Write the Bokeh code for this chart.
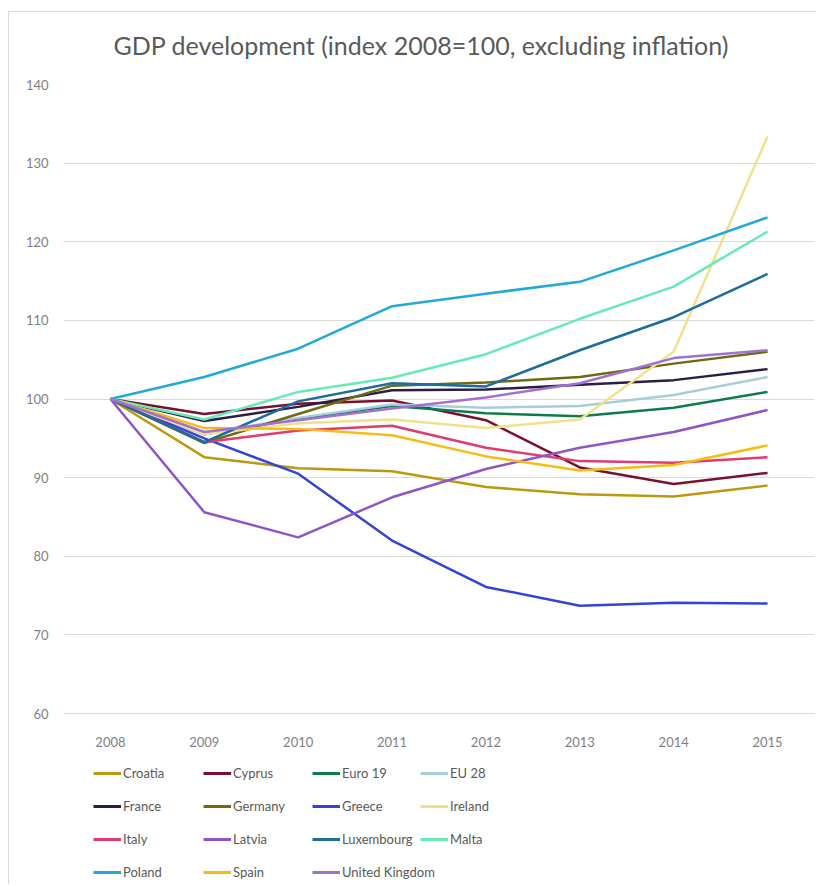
from bokeh.plotting import figure
from bokeh.layouts import column
from bokeh.models import Range1d, FixedTicker, Legend, LegendItem
from bokeh.embed import file_html
from bokeh.resources import INLINE

years = [2008, 2009, 2010, 2011, 2012, 2013, 2014, 2015]
year_labels = ["2008", "2009", "2010", "2011", "2012", "2013", "2014", "2015"]
y_ticks = [60, 70, 80, 90, 100, 110, 120, 130, 140]

croatia = [100, 92.6, 91.2, 90.8, 88.8, 87.9, 87.6, 89.0]
cyprus = [100, 98.1, 99.4, 99.8, 97.3, 91.3, 89.2, 90.6]
euro19 = [100, 95.5, 97.5, 99.1, 98.2, 97.8, 98.9, 100.9]
eu28 = [100, 95.6, 97.6, 99.3, 98.9, 99.1, 100.5, 102.8]
france = [100, 97.2, 99.0, 101.1, 101.2, 101.8, 102.4, 103.8]
germany = [100, 94.4, 98.1, 101.7, 102.1, 102.8, 104.5, 106.0]
greece = [100, 95.0, 90.5, 82.0, 76.1, 73.7, 74.1, 74.0]
ireland = [100, 95.5, 96.9, 97.4, 96.3, 97.4, 106.0, 133.4]
italy = [100, 94.5, 96.0, 96.6, 93.8, 92.1, 91.9, 92.6]
latvia = [100, 85.6, 82.4, 87.5, 91.1, 93.8, 95.8, 98.6]
luxembourg = [100, 94.5, 99.7, 102.0, 101.6, 106.2, 110.4, 115.9]
malta = [100, 97.4, 100.9, 102.7, 105.7, 110.2, 114.3, 121.3]
poland = [100, 102.8, 106.4, 111.8, 113.4, 114.9, 118.9, 123.1]
spain = [100, 96.3, 96.2, 95.4, 92.7, 90.9, 91.6, 94.1]
uk = [100, 95.8, 97.3, 98.8, 100.2, 102.0, 105.2, 106.2]

series_names = ["Croatia", "Cyprus", "Euro 19", "EU 28", "France", "Germany", "Greece",
                "Ireland", "Italy", "Latvia", "Luxembourg", "Malta", "Poland", "Spain",
                "United Kingdom"]
series_values = [croatia, cyprus, euro19, eu28, france, germany, greece, ireland, italy,
                 latvia, luxembourg, malta, poland, spain, uk]
series_colors = ["#BC9A10", "#7A0F2E", "#0E7C4A", "#A9CCDB", "#2B1E45", "#6E6A12", "#3344D6",
                 "#F3E08E", "#E23B6E", "#8E55C9", "#1C6C9C", "#66EBB4", "#22A9DB", "#F7BB12",
                 "#A070D4"]

FONT = "Lato"
GRAY = "#7F7F7F"
BORDER = "#D9D9D9"

p = figure(width=816, height=755, output_backend="svg", toolbar_location=None,
           x_range=Range1d(2007.5, 2015.5), y_range=Range1d(60, 140),
           min_border_left=63, min_border_right=2, min_border_top=84, min_border_bottom=42,
           title="GDP development (index 2008=100, excluding inflation)")
p.border_fill_alpha = 0
p.styles = {"background": f"linear-gradient({BORDER},{BORDER}) 8px 11px / 1px 100% no-repeat, "
                          f"linear-gradient({BORDER},{BORDER}) 8px 11px / 100% 1px no-repeat, white"}
p.title.align = "left"
p.title.offset = 50
p.title.text_font = FONT
p.title.text_font_size = "25px"
p.title.text_font_style = "normal"
p.title.text_color = "#595959"
p.title.standoff = 50

p.outline_line_color = None
p.xgrid.grid_line_color = None
p.ygrid.grid_line_color = BORDER
p.ygrid.grid_line_width = 1

p.yaxis.ticker = FixedTicker(ticks=y_ticks)
p.yaxis.axis_line_color = None
p.yaxis.major_tick_line_color = None
p.yaxis.minor_tick_line_color = None
p.yaxis.major_label_text_font = FONT
p.yaxis.major_label_text_font_size = "13px"
p.yaxis.major_label_text_color = GRAY
p.yaxis.major_label_standoff = 9

p.xaxis.ticker = FixedTicker(ticks=years)
p.xaxis.major_label_overrides = {y: l for y, l in zip(years, year_labels)}
p.xaxis.axis_line_color = BORDER
p.xaxis.major_tick_line_color = None
p.xaxis.minor_tick_line_color = None
p.xaxis.major_label_text_font = FONT
p.xaxis.major_label_text_font_size = "13px"
p.xaxis.major_label_text_color = GRAY
p.xaxis.major_label_standoff = 17

for vals, col in zip(series_values, series_colors):
    p.line(years, vals, line_color=col, line_width=2.5)

# legend panel below the chart (its frame is aligned with the chart's frame)
lg = figure(width=816, height=129, output_backend="svg", toolbar_location=None,
            x_range=Range1d(0, 1), y_range=Range1d(0, 1), min_border=0)
lg.border_fill_alpha = 0
lg.background_fill_alpha = 0
lg.styles = {"background": f"linear-gradient({BORDER},{BORDER}) 8px 0 / 1px 100% no-repeat, white"}
lg.axis.visible = False
lg.grid.visible = False
lg.outline_line_color = None

col_items = [[], [], [], []]
for i, (name, vals, col) in enumerate(zip(series_names, series_values, series_colors)):
    # same series, drawn outside the legend panel's visible range; used only for the key
    r = lg.line(years, vals, line_color=col, line_width=3)
    col_items[i % 4].append(LegendItem(label=name, renderers=[r]))

col_x = [30, 140, 249, 357]
for items, cx in zip(col_items, col_x):
    n = len(items)
    h = n * 20 + (n - 1) * 13
    legend = Legend(items=items, orientation="vertical", location=(cx, 129 - 8 - h),
                    label_text_font=FONT, label_text_font_size="13px", label_text_color="#595959",
                    glyph_width=28, glyph_height=20, label_height=20, label_width=40,
                    label_standoff=2, spacing=13, padding=0, margin=0,
                    border_line_color=None, background_fill_alpha=0)
    lg.add_layout(legend)

layout = column(p, lg, spacing=0)
open("out.html", "w").write(file_html(layout, INLINE))
